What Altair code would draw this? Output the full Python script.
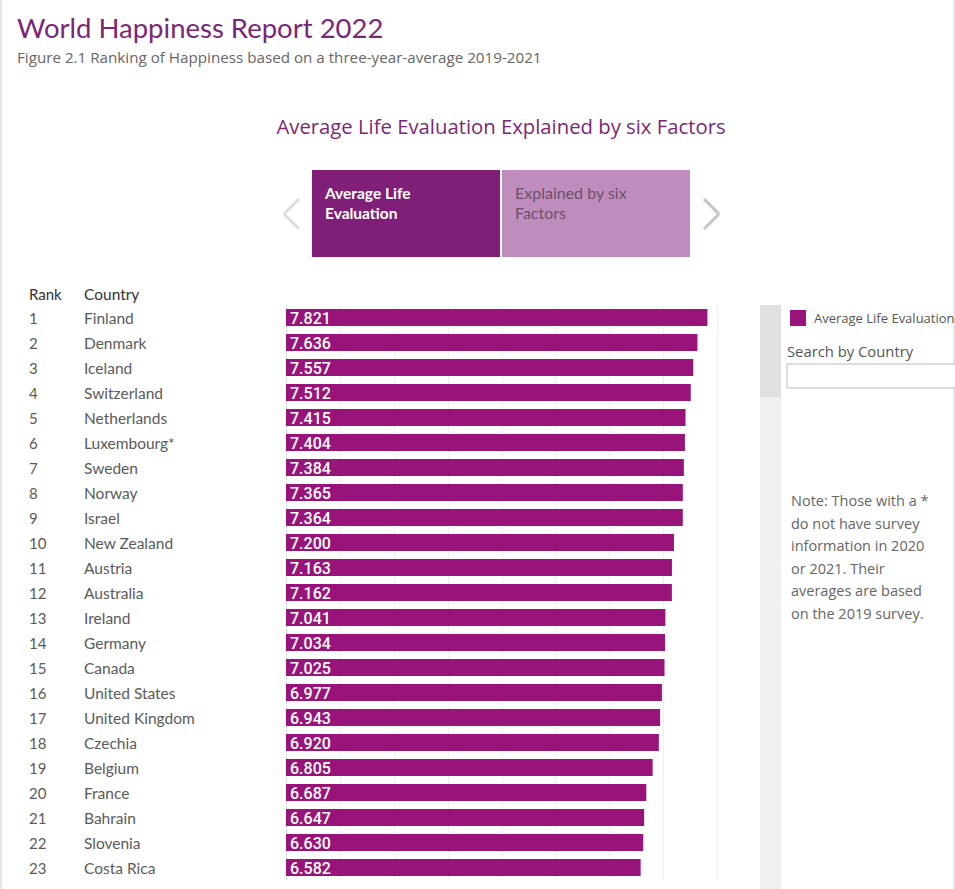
import altair as alt
import pandas as pd

ranks = list(range(1, 24))
countries = ["Finland", "Denmark", "Iceland", "Switzerland", "Netherlands", "Luxembourg*",
             "Sweden", "Norway", "Israel", "New Zealand", "Austria", "Australia", "Ireland",
             "Germany", "Canada", "United States", "United Kingdom", "Czechia", "Belgium",
             "France", "Bahrain", "Slovenia", "Costa Rica"]
scores = [7.821, 7.636, 7.557, 7.512, 7.415, 7.404, 7.384, 7.365, 7.364, 7.200, 7.163,
          7.162, 7.041, 7.034, 7.025, 6.977, 6.943, 6.920, 6.805, 6.687, 6.647, 6.630, 6.582]
grid_values = [1, 2, 3, 4, 5, 6, 7, 8]
note_lines = ["Note: Those with a *", "do not have survey", "information in 2020",
              "or 2021. Their", "averages are based", "on the 2019 survey."]

df = pd.DataFrame({"Rank": ranks, "Country": countries, "Score": scores})

FONT = "Lato"
WIDE = "Open Sans"
BAR = "#98147A"
DARK = "#7F1F78"
LIGHT = "#BF8DBD"
PURPLE_TXT = "#7B2777"

W, H = 472, 575
OX, OY = 286, 305

base = alt.Chart(df)
yenc = alt.Y("Country:N", sort=None,
             scale=alt.Scale(paddingInner=0.32, paddingOuter=0.16),
             axis=alt.Axis(labels=False, ticks=False, title=None, grid=False,
                           domain=True, domainDash=[2, 2], domainColor="#c8c8c8"))

bars = base.mark_bar(color=BAR).encode(
    x=alt.X("Score:Q", scale=alt.Scale(domain=[0, 8.76], nice=False, zero=True),
            axis=alt.Axis(values=grid_values, labels=False, ticks=False, domain=False,
                          title=None, grid=True, gridColor="#efefef")),
    y=yenc,
)
labels = base.mark_text(align="left", baseline="middle", dx=4, dy=1, color="white",
                        fontSize=16, font="Roboto", fontWeight=500).encode(
    x=alt.datum(0), y=alt.Y("Country:N", sort=None),
    text=alt.Text("Score:Q", format=".3f"))
rank_txt = base.mark_text(align="left", baseline="middle", dy=1, color="#5a5a5a",
                          fontSize=15, font=FONT).encode(
    x=alt.value(29 - OX), y=alt.Y("Country:N", sort=None), text="Rank:Q")
country_txt = base.mark_text(align="left", baseline="middle", dy=1, color="#5a5a5a",
                             fontSize=15.5, font=FONT).encode(
    x=alt.value(84 - OX), y=alt.Y("Country:N", sort=None), text="Country:N")

one = alt.Data(values=[{"a": 1}])


def txt(s, x, y, size, color, weight="normal", align="left", lh=None, font=FONT):
    kw = dict(text=s, align=align, baseline="alphabetic", fontSize=size, color=color,
              font=font, fontWeight=weight)
    if lh is not None:
        kw["lineHeight"] = lh
    return alt.Chart(one).mark_text(**kw).encode(x=alt.value(x - OX), y=alt.value(y - OY))


def rect(x1, x2, y1, y2, fill, stroke=None):
    kw = dict(color=fill)
    if stroke:
        kw = dict(fill=fill, stroke=stroke, strokeWidth=1)
    return alt.Chart(one).mark_rect(**kw).encode(
        x=alt.value(x1 - OX), x2=alt.value(x2 - OX),
        y=alt.value(y1 - OY), y2=alt.value(y2 - OY))


def seg(x1, y1, x2, y2, color):
    return alt.Chart(one).mark_rule(color=color, strokeWidth=3).encode(
        x=alt.value(x1 - OX), x2=alt.value(x2 - OX),
        y=alt.value(y1 - OY), y2=alt.value(y2 - OY))


deco = [
    rect(0, 2, 0, 889, "#e6e6e6"),
    rect(953, 955, 0, 889, "#e6e6e6"),
    txt("World Happiness Report 2022", 17, 38, 27.5, PURPLE_TXT),
    txt("Figure 2.1 Ranking of Happiness based on a three-year-average 2019-2021", 17, 63, 15.2, "#666666", font=WIDE),
    txt("Average Life Evaluation Explained by six Factors", 501, 134, 20.3, PURPLE_TXT, align="center", font=WIDE),
    rect(312, 500, 170, 257, DARK),
    rect(502, 690, 170, 257, LIGHT),
    txt(["Average Life", "Evaluation"], 325, 199, 15.5, "white", weight="bold", lh=20),
    txt(["Explained by six", "Factors"], 515, 199, 16, "#6a506a", lh=20),
    seg(299, 199, 284, 214, "#dddddd"),
    seg(284, 214, 299, 229, "#dddddd"),
    seg(704, 199, 719, 214, "#c4c4c4"),
    seg(719, 214, 704, 229, "#c4c4c4"),
    txt("Rank", 29, 300, 15, "#333333"),
    txt("Country", 84, 300, 15.5, "#333333"),
    rect(760, 781, 305, 889, "#f0f0f0"),
    rect(760, 781, 305, 397, "#e0e0e0"),
    rect(790, 806, 310, 326, BAR),
    txt("Average Life Evaluation", 814, 323, 13, "#555555", font=WIDE),
    txt("Search by Country", 787, 357, 14.8, "#555555", font=WIDE),
    rect(787, 960, 364, 388, "white", stroke="#bbbbbb"),
    txt(note_lines, 791, 506, 14.5, "#666666", lh=22.6, font=WIDE),
]

chart = alt.layer(bars, labels, rank_txt, country_txt, *deco).properties(
    width=W, height=H,
    padding={"left": OX, "top": OY, "right": 955 - OX - W, "bottom": 889 - OY - H},
    autosize=alt.AutoSizeParams(type="none"),
    background="white",
).configure_view(strokeWidth=0)

chart.save("out.html", embed_options={"renderer": "svg", "actions": False})
